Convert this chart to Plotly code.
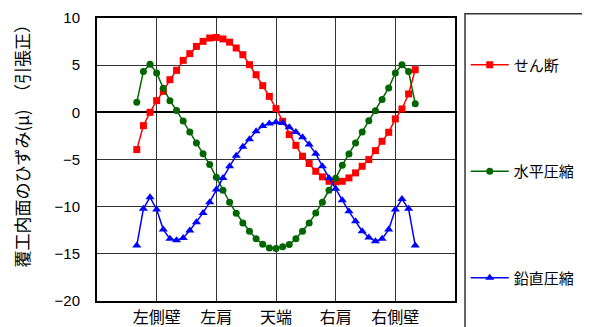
import plotly.graph_objects as go

# positions along the lining (degrees, 0 = crown)
angle = [-105, -100, -95, -90, -85, -80, -75, -70, -65, -60, -55, -50, -45, -40, -35,
         -30, -25, -20, -15, -10, -5, 0, 5, 10, 15, 20, 25, 30, 35, 40, 45, 50, 55,
         60, 65, 70, 75, 80, 85, 90, 95, 100, 105]

shear = [-3.95, -1.41, 0.0, 1.24, 2.22, 3.46, 4.45, 5.51, 6.22, 6.99, 7.52, 7.88, 7.94,
         7.78, 7.44, 6.82, 6.11, 5.05, 3.99, 2.83, 1.69, 0.39, -0.95, -2.36, -3.5, -4.66,
         -5.43, -6.25, -6.84, -7.31, -7.37, -7.31, -6.95, -6.42, -5.72, -5.01, -4.06,
         -3.07, -2.12, -0.7, 0.36, 1.95, 4.52]

horiz = [1.06, 4.34, 5.11, 4.17, 2.56, 1.24, 0.2, -0.93, -2.08, -3.24, -4.38, -5.54,
         -6.89, -8.26, -9.53, -10.7, -11.72, -12.6, -13.41, -13.98, -14.39, -14.44,
         -14.26, -14.01, -13.41, -12.6, -11.74, -10.68, -9.53, -8.26, -7.0, -5.6, -4.41,
         -3.24, -2.08, -0.88, 0.18, 1.35, 2.58, 4.17, 5.05, 4.34, 0.92]

vert = [-14.12, -10.23, -9.0, -10.31, -12.43, -13.41, -13.56, -13.31, -12.53, -11.65,
        -10.66, -9.53, -8.19, -6.95, -5.72, -4.59, -3.65, -2.86, -2.01, -1.44, -1.18,
        -1.06, -1.14, -1.59, -2.08, -2.63, -3.42, -4.38, -5.72, -6.95, -8.11, -9.32,
        -10.49, -11.55, -12.6, -13.27, -13.67, -13.41, -12.43, -10.31, -9.19, -10.23,
        -14.12]

tick_pos = [-90, -45, 0, 45, 90]
tick_text = ["左側壁", "左肩", "天端", "右肩", "右側壁"]
y_ticks = [10, 5, 0, -5, -10, -15, -20]

series = [
    ("せん断", shear, "#FF0000", "square", 7),
    ("水平圧縮", horiz, "#006600", "circle", 7),
    ("鉛直圧縮", vert, "#0000FF", "triangle-up", 8),
]

JP = "Noto Sans CJK JP"
fig = go.Figure()
for i, (name, vals, col, sym, sz) in enumerate(series):
    fig.add_trace(go.Scatter(
        x=angle, y=vals, name=name, mode="lines+markers",
        line=dict(color=col, width=1.5),
        marker=dict(color=col, symbol=sym, size=sz),
        legendgroup=f"g{i}",
    ))

# the page body adds an 8px offset, so the figure is 8px smaller on each side
fig.update_layout(
    width=582, height=319,
    margin=dict(l=89, r=135, t=10, b=26, autoexpand=False),
    paper_bgcolor="white", plot_bgcolor="white",
    showlegend=True,
    legend=dict(
        x=1.03, xanchor="left", y=0.892, yanchor="top",
        font=dict(family=JP, size=15, color="black"),
        tracegroupgap=84, itemsizing="trace", itemwidth=38,
        bgcolor="rgba(0,0,0,0)",
    ),
    font=dict(family="Liberation Sans, Arial", color="black"),
)

fig.update_xaxes(
    range=[-135, 135], tickmode="array", tickvals=tick_pos, ticktext=tick_text,
    tickfont=dict(family=JP, size=16, color="black"),
    showgrid=True, gridcolor="#333333", gridwidth=1.3,
    zeroline=False, showline=True, linecolor="black", linewidth=2, mirror=True,
    ticks="", ticklabelstandoff=1, automargin=False,
)
fig.update_yaxes(
    range=[-20, 10], tickmode="array", tickvals=y_ticks,
    tickfont=dict(family="Liberation Sans, Arial", size=15, color="black"),
    showgrid=True, gridcolor="#333333", gridwidth=1.3,
    zeroline=True, zerolinecolor="black", zerolinewidth=2.2,
    showline=True, linecolor="black", linewidth=2, mirror=True,
    ticks="", ticklabelstandoff=12, automargin=False,
)

# legend frame
fig.add_shape(type="rect", xref="paper", yref="paper",
              x0=1.028, x1=1.6, y0=-0.3, y1=1.015,
              line=dict(color="#333333", width=1.5), fillcolor="rgba(0,0,0,0)")

fig.add_annotation(
    text="覆工内面のひずみ(μ)　（引張正）", textangle=-90,
    xref="paper", yref="paper", x=-0.211, y=0.565,
    xanchor="center", yanchor="middle", showarrow=False,
    font=dict(family=JP, size=17, color="black"),
)

fig.write_html("out.html")
